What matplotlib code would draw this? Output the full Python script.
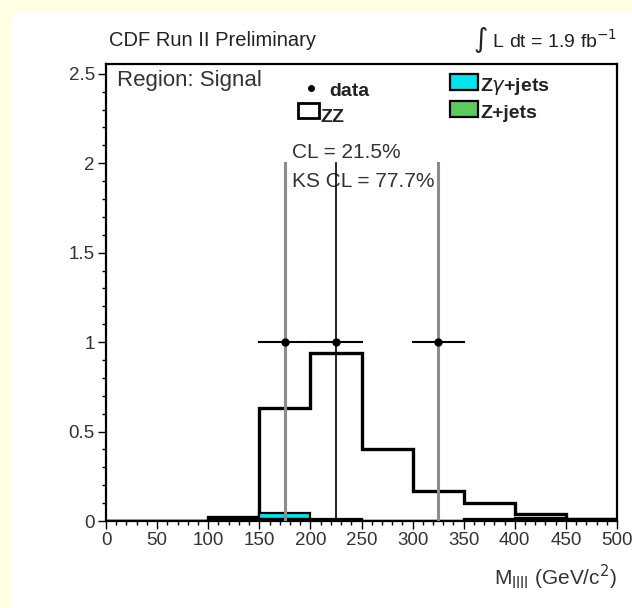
import numpy as np
from matplotlib import pyplot as plt
from matplotlib.patches import Rectangle

# bins of the four-lepton mass, 50 GeV wide
bin_edges = [0, 50, 100, 150, 200, 250, 300, 350, 400, 450, 500]
# stacked expectation (ZZ on top of the backgrounds), events per bin
total_stack = [0, 0, 0.022, 0.63, 0.94, 0.40, 0.17, 0.10, 0.04, 0.01]
zgamma_jets = [0, 0, 0.004, 0.035, 0.006, 0.002, 0, 0.003, 0.004, 0.003]
z_jets = [0, 0, 0.002, 0.012, 0.006, 0, 0, 0.006, 0.01, 0.006]

# data points
data_x = [175, 225, 325]
data_y = [1, 1, 1]
data_xerr = [25, 25, 25]
data_yerr = [1, 1, 1]
data_vcolor = ['#8c8c8c', 'black', '#8c8c8c']

plt.rcParams['font.family'] = ['Liberation Sans', 'DejaVu Sans']

fig = plt.figure(figsize=(6.32, 6.08), dpi=100, facecolor='#FFFDE4')
# white canvas, yellow strip at left and top
fig.patches.append(Rectangle((12 / 632, 0), 1 - 12 / 632, (608 - 12) / 608,
                             transform=fig.transFigure, facecolor='white',
                             edgecolor='none', zorder=-5))

ax = fig.add_axes([106 / 632, 1 - 521 / 608, (617 - 106) / 632, (521 - 64) / 608])
ax.set_zorder(2)
ax.set_facecolor('white')

edges = np.array(bin_edges)
lefts = edges[:-1]
widths = np.diff(edges)

# ZZ total outline
ax.stairs(total_stack, edges, color='black', linewidth=2.4, zorder=2)
# backgrounds
ax.bar(lefts, zgamma_jets, width=widths, bottom=z_jets, align='edge',
       facecolor='#00E5EE', edgecolor='black', linewidth=1.6, zorder=3)
ax.bar(lefts, z_jets, width=widths, align='edge',
       facecolor='#5CCB5C', edgecolor='black', linewidth=1.6, zorder=3)

# data with errors
for x, y, xe, ye, c in zip(data_x, data_y, data_xerr, data_yerr, data_vcolor):
    lw = 2.2 if c != 'black' else 1.2
    ax.plot([x, x], [y - ye, y + ye], color=c, linewidth=lw, zorder=4)
    ax.plot([x - xe, x + xe], [y, y], color='black', linewidth=1.5, zorder=4)
ax.plot(data_x, data_y, 'o', color='black', markersize=5, zorder=5)

ax.set_xlim(0, 500)
ax.set_ylim(0, 2.555)
ax.set_xticks(range(0, 501, 50))
ax.set_xticks(range(0, 501, 10), minor=True)
ax.set_yticks([0, 0.5, 1, 1.5, 2, 2.5])
ax.set_yticklabels(['0', '0.5', '1', '1.5', '2', '2.5'])
ax.set_yticks(np.arange(0, 2.55, 0.1), minor=True)
ax.set_xticklabels([str(v) for v in range(0, 501, 50)])
ax.tick_params(which='major', length=6, width=1, direction='out',
               labelsize=13.5, labelcolor='#333333', pad=2)
ax.tick_params(which='minor', length=3, width=1, direction='out')
for s in ax.spines.values():
    s.set_linewidth(1.6)

ax.set_xlabel(r'M$_{\rm llll}$ (GeV/c$^2$)', fontsize=15, color='#333333',
              loc='right', labelpad=10)

# header texts
fig.text(109 / 632, 1 - 40 / 608, 'CDF Run II Preliminary', fontsize=14.5,
         color='#222222', va='center')
fig.text(617 / 632, 1 - 40 / 608, r'$\int$ L dt = 1.9 fb$^{-1}$', fontsize=14,
         color='#222222', va='center', ha='right')

# in-plot labels
ax.text(11, 2.465, 'Region: Signal', fontsize=16, color='#333333', va='center')
ax.text(182, 2.06, 'CL = 21.5%', fontsize=15, color='#333333', va='center')
ax.text(182, 1.9, 'KS CL = 77.7%', fontsize=15, color='#333333', va='center')

# legend drawn by hand
ax.plot([201], [2.42], 'o', color='black', markersize=4)
ax.text(218, 2.40, 'data', fontsize=14, fontweight='bold', color='#222222',
        va='center')
ax.add_patch(Rectangle((188, 2.255), 20, 0.08, facecolor='white',
                       edgecolor='black', linewidth=2))
ax.text(210, 2.255, 'ZZ', fontsize=14, fontweight='bold', color='#222222',
        va='center')
ax.add_patch(Rectangle((337, 2.41), 27, 0.09, facecolor='#00E5EE',
                       edgecolor='black', linewidth=1.6))
ax.text(366, 2.43, r'Z$\gamma$+jets', fontsize=14, fontweight='bold',
        color='#222222', va='center')
ax.add_patch(Rectangle((337, 2.26), 27, 0.09, facecolor='#5CCB5C',
                       edgecolor='black', linewidth=1.6))
ax.text(366, 2.28, 'Z+jets', fontsize=14, fontweight='bold', color='#222222',
        va='center')

fig.savefig('out.png', dpi=100, facecolor=fig.get_facecolor())
